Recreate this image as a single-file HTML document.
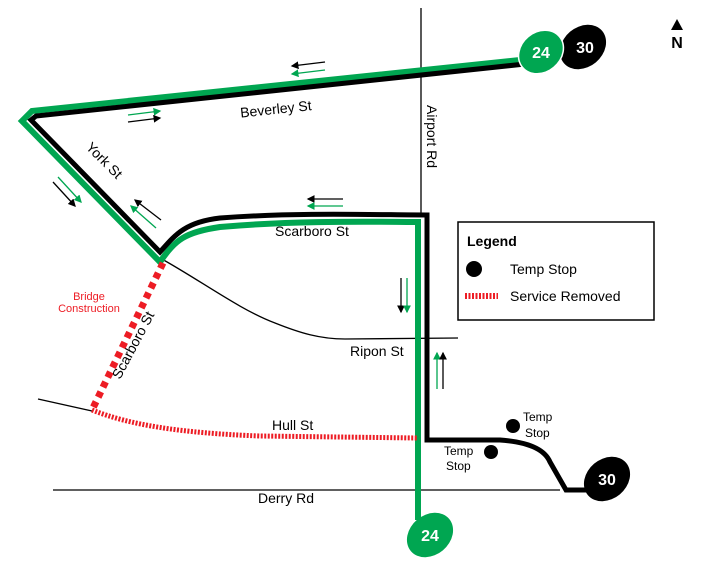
<!DOCTYPE html>
<html><head><style>body{margin:0;background:#fff}svg{display:block}text{font-family:"Liberation Sans",sans-serif}</style></head><body>
<svg width="702" height="568" viewBox="0 0 702 568" xmlns="http://www.w3.org/2000/svg">
<defs>
<marker id="ab" markerWidth="6" markerHeight="6" refX="5" refY="3" orient="auto"><path d="M0,0 L6,3 L0,6Z" fill="#000"/></marker>
<marker id="ag" markerWidth="6" markerHeight="6" refX="5" refY="3" orient="auto"><path d="M0,0 L6,3 L0,6Z" fill="#00a651"/></marker>
</defs>
<line x1="421" y1="8" x2="421" y2="215" stroke="#000" stroke-width="1.3"/>
<path d="M160,258 C200,280 240,310 275,323 C300,333 320,339 345,339 L458,338" fill="none" stroke="#000" stroke-width="1.3"/>
<line x1="38" y1="399" x2="92" y2="411" stroke="#000" stroke-width="1.3"/>
<line x1="53" y1="490" x2="560" y2="490" stroke="#000" stroke-width="1.3"/>
<path d="M520,60 L32,111 L22,121 L160,262 C175,240 185,232 220,227 C300,220 380,222 418,222 L418,520" fill="none" stroke="#00a651" stroke-width="6" stroke-linejoin="miter"/>
<path d="M525,64 L36,116 L31,120 L160,252 C175,235 185,222 220,218 C300,212 380,215 427,215 L427,440 L500,440 C530,442 545,450 550,462 L566,490 L592,490" fill="none" stroke="#000" stroke-width="5"/>
<path d="M418,222 L418,520" stroke="#00a651" stroke-width="5"/>
<path d="M163,263 L92,410" stroke="#ed1c24" stroke-width="7" stroke-dasharray="6,5"/>
<path d="M92,410 C130,425 180,433 260,436 L418,438" fill="none" stroke="#ed1c24" stroke-width="5" stroke-dasharray="2,1.5"/>
<line x1="325" y1="62" x2="292" y2="66" stroke="#000" stroke-width="1.3" marker-end="url(#ab)"/>
<line x1="325" y1="70" x2="292" y2="74" stroke="#00a651" stroke-width="1.3" marker-end="url(#ag)"/>
<line x1="128" y1="115" x2="160" y2="111" stroke="#00a651" stroke-width="1.3" marker-end="url(#ag)"/>
<line x1="128" y1="122" x2="160" y2="118" stroke="#000" stroke-width="1.3" marker-end="url(#ab)"/>
<line x1="53" y1="182" x2="75" y2="206" stroke="#000" stroke-width="1.3" marker-end="url(#ab)"/>
<line x1="58" y1="177" x2="81" y2="202" stroke="#00a651" stroke-width="1.3" marker-end="url(#ag)"/>
<line x1="161" y1="220" x2="135" y2="200" stroke="#000" stroke-width="1.3" marker-end="url(#ab)"/>
<line x1="156" y1="228" x2="131" y2="206" stroke="#00a651" stroke-width="1.3" marker-end="url(#ag)"/>
<line x1="343" y1="199" x2="308" y2="199" stroke="#000" stroke-width="1.3" marker-end="url(#ab)"/>
<line x1="343" y1="206" x2="308" y2="206" stroke="#00a651" stroke-width="1.3" marker-end="url(#ag)"/>
<line x1="401" y1="278" x2="401" y2="312" stroke="#000" stroke-width="1.3" marker-end="url(#ab)"/>
<line x1="407" y1="278" x2="407" y2="312" stroke="#00a651" stroke-width="1.3" marker-end="url(#ag)"/>
<line x1="437" y1="389" x2="437" y2="353" stroke="#00a651" stroke-width="1.3" marker-end="url(#ag)"/>
<line x1="443" y1="389" x2="443" y2="353" stroke="#000" stroke-width="1.3" marker-end="url(#ab)"/>
<g font-size="14" fill="#000">
<text x="240" y="113" transform="rotate(-6 284 108)">Beverley St</text>
<text x="76" y="160" transform="rotate(45 95 165)">York St</text>
<text x="275" y="236">Scarboro St</text>
<text x="427" y="105" transform="rotate(90 427 105)">Airport Rd</text>
<text x="350" y="356">Ripon St</text>
<text x="272" y="430">Hull St</text>
<text x="258" y="503">Derry Rd</text>
<text x="120" y="380" transform="rotate(-62 120 380)">Scarboro St</text>
</g>
<text x="89" y="300" font-size="11" fill="#ed1c24" text-anchor="middle">Bridge</text>
<text x="89" y="312" font-size="11" fill="#ed1c24" text-anchor="middle">Construction</text>
<circle cx="513" cy="426" r="7"/><circle cx="491" cy="452" r="7"/>
<text x="523" y="421" font-size="12">Temp</text><text x="525" y="437" font-size="12">Stop</text>
<text x="444" y="455" font-size="12">Temp</text><text x="446" y="470" font-size="12">Stop</text>
<ellipse cx="583" cy="47" rx="25" ry="20" transform="rotate(-40 583 47)"/>
<text x="585" y="53" font-size="16" font-weight="bold" fill="#fff" text-anchor="middle">30</text>
<ellipse cx="541" cy="52" rx="24" ry="20" fill="#00a651" stroke="#fff" stroke-width="1.5" transform="rotate(-40 541 52)"/>
<text x="541" y="58" font-size="16" font-weight="bold" fill="#fff" text-anchor="middle">24</text>
<ellipse cx="607" cy="479" rx="25" ry="20" transform="rotate(-40 607 479)"/>
<text x="607" y="485" font-size="16" font-weight="bold" fill="#fff" text-anchor="middle">30</text>
<ellipse cx="430" cy="535" rx="25" ry="20" fill="#00a651" transform="rotate(-40 430 535)"/>
<text x="430" y="541" font-size="16" font-weight="bold" fill="#fff" text-anchor="middle">24</text>
<path d="M671,30 L677,19 L683,30Z" fill="#000"/>
<text x="677" y="48" font-size="16" font-weight="bold" text-anchor="middle">N</text>
<rect x="458" y="222" width="196" height="98" fill="#fff" stroke="#000" stroke-width="1.5"/>
<text x="467" y="246" font-size="14" font-weight="bold">Legend</text>
<circle cx="474" cy="269" r="8"/>
<text x="510" y="274" font-size="14">Temp Stop</text>
<line x1="465" y1="296" x2="498" y2="296" stroke="#ed1c24" stroke-width="6" stroke-dasharray="2,1.5"/>
<text x="510" y="301" font-size="14">Service Removed</text>
</svg>
</body></html>
